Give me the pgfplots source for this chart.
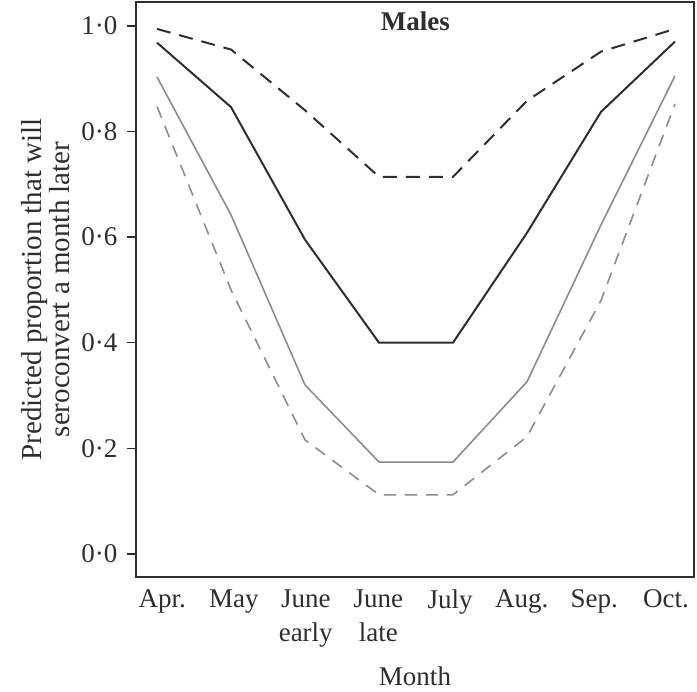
\documentclass[border=0pt]{standalone}
\usepackage{pgfplots}
\pgfplotsset{compat=1.18}
\usepackage{fontspec}
\setmainfont{Liberation Serif}
\definecolor{dk}{HTML}{2E2E2E}
\definecolor{gr}{HTML}{8C8C8C}
\begin{document}
\begin{tikzpicture}
\begin{axis}[
    scale only axis,
    width=558pt, height=575pt,
    xmin=-0.284, xmax=7.257,
    ymin=-0.0436, ymax=1.045,
    axis line style={dk, line width=1.8pt},
    xtick={0.07,1.04,2.01,2.99,3.96,4.93,5.91,6.88},
    xticklabels={Apr., May, June\\early, June\\late, July, Aug., Sep., Oct.},
    xticklabel style={align=center, font=\fontsize{27}{34}\selectfont, text=dk},
    major x tick style={draw=none},
    ytick={0,0.2,0.4,0.6,0.8,1.0},
    yticklabels={0·0,0·2,0·4,0·6,0·8,1·0},
    yticklabel style={font=\fontsize{27}{32}\selectfont, text=dk, xshift=-6pt},
    ytick pos=left, tick align=outside,
    major tick length=9pt,
    major y tick style={dk, line width=1.5pt},
    xlabel={Month},
    xlabel style={font=\fontsize{27}{32}\selectfont, text=dk, yshift=-13pt},
    ylabel={Predicted proportion that will\\seroconvert a month later},
    ylabel style={align=center, font=\fontsize{29}{28}\selectfont, text=dk, yshift=5pt},
]
% black dashed
\addplot[dk, line width=2pt, dash pattern=on 14pt off 9pt] coordinates {
    (0,0.994) (1,0.955) (2,0.840) (3,0.714) (4,0.714) (5,0.858) (6,0.951) (7,0.994)
};
% black solid
\addplot[dk, line width=2pt] coordinates {
    (0,0.968) (1,0.846) (2,0.595) (3,0.400) (4,0.400) (5,0.608) (6,0.837) (7,0.970)
};
% gray solid
\addplot[gr, line width=1.6pt] coordinates {
    (0,0.903) (1,0.642) (2,0.320) (3,0.174) (4,0.174) (5,0.326) (6,0.623) (7,0.905)
};
% gray dashed
\addplot[gr, line width=1.6pt, dash pattern=on 12pt off 9pt] coordinates {
    (0,0.847) (1,0.500) (2,0.216) (3,0.112) (4,0.112) (5,0.222) (6,0.480) (7,0.852)
};
\node[font=\bfseries\fontsize{27}{32}\selectfont, text=dk] at (axis cs:3.49,1.008) {Males};
\end{axis}
\pgfresetboundingbox
\path (current axis.south west) ++(-136pt,577pt) rectangle ++(697pt,-692pt);
\end{tikzpicture}
\end{document}
